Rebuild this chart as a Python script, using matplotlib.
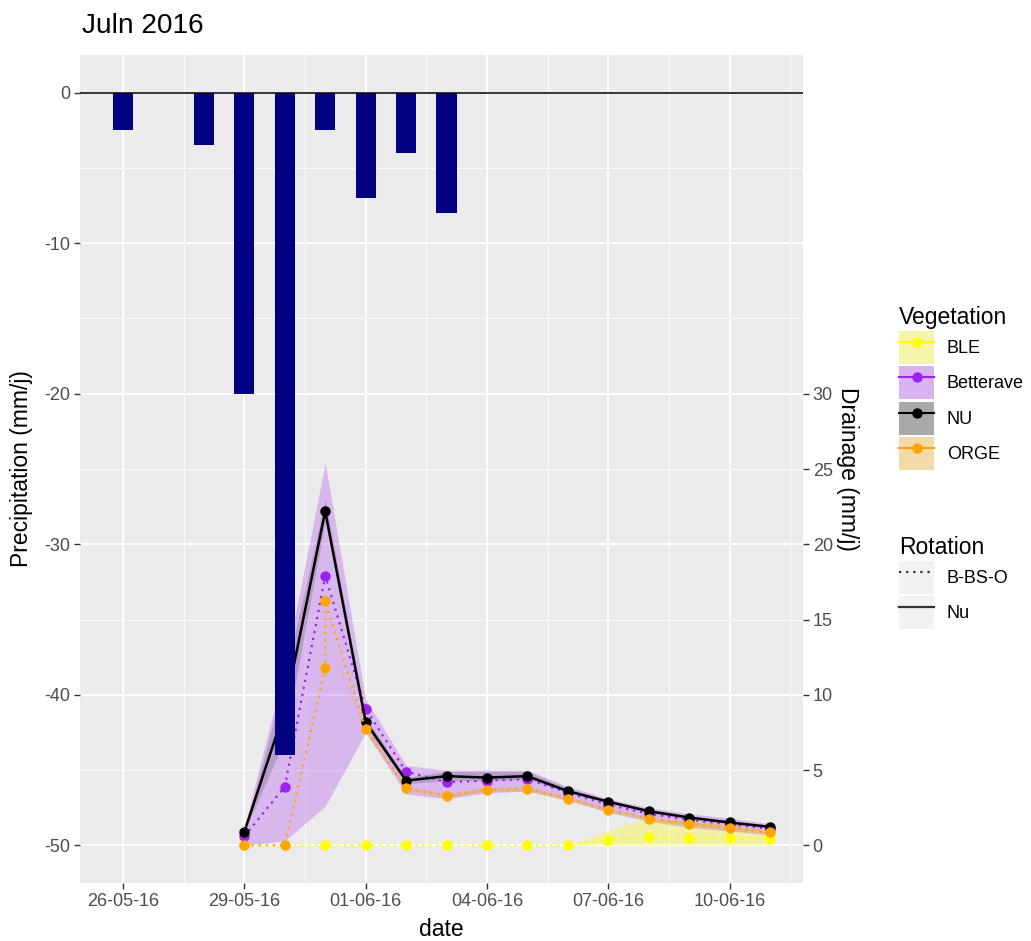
import numpy as np
import pandas as pd
import matplotlib
matplotlib.use("Agg")
import matplotlib.pyplot as plt
import matplotlib.dates as mdates
from matplotlib.patches import Patch
from matplotlib.lines import Line2D

plt.rcParams['font.family'] = ['Liberation Sans', 'DejaVu Sans']
plt.rcParams['axes.unicode_minus'] = False

# precipitation (plotted as negative bars from 0)
rainDates = ['2016-05-26', '2016-05-28', '2016-05-29', '2016-05-30',
             '2016-05-31', '2016-06-01', '2016-06-02', '2016-06-03']
rain = [-2.5, -3.5, -20, -44, -2.5, -7, -4, -8]

# drainage per vegetation (mm/j), daily 29-05 .. 11-06
days = pd.date_range('2016-05-29', '2016-06-11', freq='D')

bleVals = [0, 0, 0, 0, 0, 0, 0, 0, 0, 0.35, 0.53, 0.5, 0.46, 0.42]
bleLo = [0, 0, 0, 0, 0, 0, 0, 0, 0, 0, 0, 0, 0, 0]
bleHi = [0, 0, 0, 0, 0, 0, 0, 0, 0, 1.0, 1.8, 1.7, 1.4, 1.0]

betVals = [0.6, 3.9, 17.9, 9.05, 4.9, 4.2, 4.3, 4.4, 3.5, 2.7, 2.1, 1.7, 1.4, 1.1]
betLo = [0, 0.3, 2.6, 7.5, 3.4, 3.1, 3.5, 3.6, 3.0, 2.2, 1.6, 1.2, 0.95, 0.7]
betHi = [1.2, 11.8, 25.4, 9.7, 5.3, 5.0, 5.0, 5.0, 3.9, 3.1, 2.5, 2.1, 1.8, 1.45]

nuVals = [0.9, 9.0, 22.2, 8.2, 4.3, 4.6, 4.5, 4.6, 3.6, 2.9, 2.27, 1.85, 1.52, 1.23]
nuLo = [0.9, 7.0, 21.5, 7.9, 4.1, 4.3, 4.3, 4.4, 3.5, 2.8, 2.15, 1.75, 1.42, 1.13]
nuHi = [0.9, 11.0, 23.0, 8.5, 4.5, 4.9, 4.9, 4.9, 3.8, 3.0, 2.4, 1.95, 1.62, 1.33]

# ORGE has two observations on 31-05
orgeDates = ['2016-05-29', '2016-05-30', '2016-05-31', '2016-05-31', '2016-06-01',
             '2016-06-02', '2016-06-03', '2016-06-04', '2016-06-05', '2016-06-06',
             '2016-06-07', '2016-06-08', '2016-06-09', '2016-06-10', '2016-06-11']
orgeVals = [0, 0, 11.8, 16.2, 7.7, 3.8, 3.3, 3.7, 3.77, 3.1, 2.38, 1.78, 1.45, 1.18, 0.86]
orgeLo = [0, 0, 14.0, 7.55, 3.65, 3.15, 3.55, 3.6, 2.95, 2.25, 1.65, 1.32, 1.05, 0.75]
orgeHi = [0, 0, 14.0, 7.85, 3.95, 3.45, 3.85, 3.9, 3.25, 2.5, 1.9, 1.58, 1.3, 0.97]

vegNames = ['BLE', 'Betterave', 'NU', 'ORGE']
vegColors = ['#FFFF00', '#A020F0', '#000000', '#FFA500']
rotNames = ['B-BS-O', 'Nu']

offset = 50  # drainage 0 sits at precipitation -50


def toPrec(d):
    return np.asarray(d, dtype=float) - offset


dotted = (0, (1, 2.2))

fig = plt.figure(figsize=(10.31, 9.41), dpi=100)
ax = fig.add_axes([80 / 1031, 1 - 883 / 941, 723 / 1031, 828 / 941])
ax.set_facecolor('#EBEBEB')
for s in ax.spines.values():
    s.set_visible(False)

dnum = mdates.date2num(days)
series = [
    (dnum, bleVals, bleLo, bleHi, dotted, 0.3),
    (dnum, betVals, betLo, betHi, dotted, 0.25),
    (dnum, nuVals, nuLo, nuHi, '-', 0.15),
    (mdates.date2num(pd.to_datetime(orgeDates)), orgeVals, orgeLo, orgeHi, dotted, 0.25),
]
for (x, v, lo, hi, ls, al), c in zip(series, vegColors):
    ax.fill_between(dnum, toPrec(lo), toPrec(hi), color=c, alpha=al, lw=0, zorder=1)
for (x, v, lo, hi, ls, al), c in zip(series, vegColors):
    ax.plot(x, toPrec(v), color=c, ls=ls, lw=1.8 if ls == '-' else 1.6,
            marker='o', ms=6.5, zorder=2)

rnum = mdates.date2num(pd.to_datetime(rainDates))
ax.bar(rnum, rain, width=0.5, color='#000080', zorder=3)
ax.axhline(0, color='black', lw=1.1, zorder=4)

# ticks: every 3 days, minor grid halfway
major = mdates.date2num(pd.date_range('2016-05-26', periods=6, freq='3D'))
ax.set_xticks(major)
ax.set_xticks(np.append(major[:-1] + 1.5, major[-1] + 1.5), minor=True)
ax.xaxis.set_major_formatter(mdates.DateFormatter('%d-%m-%y'))
ax.set_yticks(np.arange(-50, 1, 10))
ax.set_yticks(np.arange(-45, 1, 10), minor=True)

# limits like ggplot's 5% expansion
x0 = rnum[0] - 0.25
x1 = dnum[-1]
pad = 0.05 * (x1 - x0)
ax.set_xlim(x0 - pad, x1 + pad)
ax.set_ylim(-52.5, 2.5)

ax.grid(which='major', color='white', lw=1.3)
ax.grid(which='minor', color='white', lw=0.6)
ax.set_axisbelow(True)
ax.tick_params(which='major', length=4, width=1, color='#333333', labelcolor='#4D4D4D',
               labelsize=13, pad=3)
ax.tick_params(which='minor', length=0)

secax = ax.secondary_yaxis('right', functions=(lambda y: y + offset, lambda d: d - offset))
secax.set_yticks(np.arange(0, 31, 5))
secax.spines['right'].set_visible(False)
secax.tick_params(length=4, width=1, color='#333333', labelcolor='#4D4D4D',
                  labelsize=13, pad=3)
secax.set_ylabel('Drainage (mm/j)', fontsize=16.5, rotation=-90, va='center', ha='center')
secax.yaxis.set_label_coords((848 - 80) / 723, 0.5, transform=ax.transAxes)

ax.set_ylabel('Precipitation (mm/j)', fontsize=16.5, va='center')
ax.yaxis.set_label_coords((22 - 80) / 723, 0.5)
ax.set_xlabel('date', fontsize=16.5, va='center')
ax.xaxis.set_label_coords(0.5, (883 - 929) / 828)

ax.set_title('Juln 2016', loc='left', fontsize=20.2, pad=16, x=0.003)

# legends
vegHandles = [(Patch(fc='#F2F2F2', ec='none'), Patch(fc=c, alpha=0.3, ec='none'),
               Line2D([], [], color=c, marker='o', ms=6.5, lw=1.5)) for c in vegColors]
rotHandles = [(Patch(fc='#F2F2F2', ec='none'), Line2D([], [], color='#333333', ls=ls, lw=1.6))
              for ls in [dotted, '-']]

legKw = dict(loc='upper left', frameon=False, fontsize=13, title_fontsize=16.5,
             handlelength=1.94, handleheight=2.44, labelspacing=0.12, handletextpad=0.7,
             borderpad=0, borderaxespad=0, alignment='left')
leg1 = fig.legend(vegHandles, vegNames, title='Vegetation',
                  bbox_to_anchor=(899 / 1031, 1 - 306 / 941), **legKw)
leg1._legend_handle_box.sep = 10
leg2 = fig.legend(rotHandles, rotNames, title='Rotation',
                  bbox_to_anchor=(899 / 1031, 1 - 536 / 941), **legKw)

fig.savefig('out.png', dpi=100)
